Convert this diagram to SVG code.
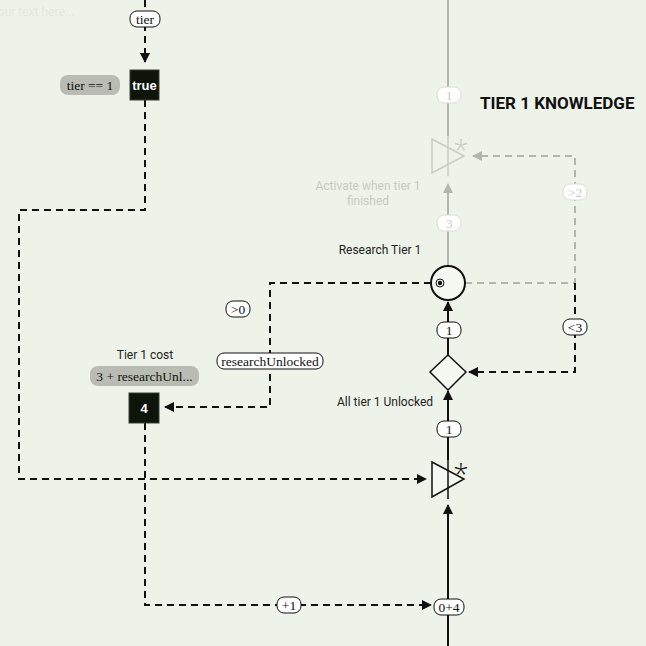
<svg xmlns="http://www.w3.org/2000/svg" width="646" height="646" viewBox="0 0 646 646">
<defs>
<style>
.lbl{font-family:Roboto,"Liberation Sans",sans-serif;font-size:12px;fill:#222;text-anchor:middle}
.faint{fill:#c5cbbf}
.pill{fill:#fff;stroke:#111;stroke-width:1}
.pillf{fill:#fff;stroke:#d8dcd4;stroke-width:1}
.pt{font-family:"Liberation Serif","DejaVu Serif",serif;font-size:13.5px;fill:#111;text-anchor:middle}
.ptf{fill:#c8ccc4}
.gp{fill:#b9bcb2}
.box{fill:#0d140a;stroke:#3a3f36}
.bt{font-family:"Liberation Sans",Roboto,sans-serif;font-size:13px;font-weight:bold;fill:#fff;text-anchor:middle}
.solid{stroke:#111;stroke-width:2;fill:none}
.grey{stroke:#b3b6ae;stroke-width:2;fill:none}
.dash{stroke:#111;stroke-width:2;fill:none;stroke-dasharray:7 5}
.dashg{stroke:#b3b6ae;stroke-width:2;fill:none;stroke-dasharray:7 5}
.shape{fill:#f4f8f0;stroke:#111;stroke-width:1.5}
.shapef{fill:none;stroke:#c8cdc3;stroke-width:1.5}
.star{font-family:"Open Sans","Liberation Sans",sans-serif;font-size:28px;font-weight:300;text-anchor:middle}
</style>
<marker id="ah" viewBox="0 0 10 10" refX="9" refY="5" markerWidth="5" markerHeight="5" orient="auto"><path d="M0,0 L10,5 L0,10 z" fill="#111"/></marker>
<marker id="ahg" viewBox="0 0 10 10" refX="9" refY="5" markerWidth="5" markerHeight="5" orient="auto"><path d="M0,0 L10,5 L0,10 z" fill="#b3b6ae"/></marker>
</defs>
<rect width="646" height="646" fill="#eef3e9"/>
<text x="-9" y="16" font-family="Roboto,sans-serif" font-size="12" fill="#e2e7dd">Your text here...</text>

<g id="connectors">
<line class="grey" x1="448" y1="0" x2="448" y2="136"/>
<line class="grey" x1="448" y1="266" x2="448" y2="184" marker-end="url(#ahg)"/>
<line class="solid" x1="448" y1="355" x2="448" y2="302" marker-end="url(#ah)"/>
<line class="solid" x1="448" y1="460" x2="448" y2="391" marker-end="url(#ah)"/>
<line class="solid" x1="448" y1="646" x2="448" y2="505" marker-end="url(#ah)"/>
<line class="dash" x1="145" y1="0" x2="145" y2="62" marker-end="url(#ah)"/>
<polyline class="dash" points="145,100 145,210 19,210 19,479 426,479" marker-end="url(#ah)"/>
<polyline class="dash" points="431,283 270,283 270,407 165,407" marker-end="url(#ah)"/>
<polyline class="dash" points="145,423 145,605 431,605" marker-end="url(#ah)"/>
<polyline class="dashg" points="465,283 575,283 575,156 473,156" marker-end="url(#ahg)"/>
<polyline class="dash" points="575,283 575,372 469,372" marker-end="url(#ah)"/>
</g>

<g id="pills">
<rect class="pillf" x="437" y="87" width="24" height="16" rx="7"/><text class="pt ptf" x="449" y="100">1</text>
<rect class="pillf" x="437" y="215" width="24" height="16" rx="7"/><text class="pt ptf" x="449" y="228">3</text>
<rect class="pillf" x="563" y="184" width="24" height="16" rx="7"/><text class="pt ptf" x="575" y="197">&gt;2</text>
<rect class="pill" x="437" y="322" width="24" height="16" rx="7"/><text class="pt" x="449" y="335">1</text>
<rect class="pill" x="437" y="421" width="24" height="16" rx="7"/><text class="pt" x="449" y="434">1</text>
<rect class="pill" x="563" y="319" width="24" height="16" rx="7"/><text class="pt" x="575" y="332">&lt;3</text>
<rect class="pill" x="130" y="11" width="30" height="16" rx="7"/><text class="pt" x="145" y="24">tier</text>
<rect class="pill" x="226" y="301" width="24" height="16" rx="7"/><text class="pt" x="238" y="314">&gt;0</text>
<rect class="pill" x="217" y="353" width="106" height="16" rx="7"/><text class="pt" x="270" y="366">researchUnlocked</text>
<rect class="pill" x="277" y="597" width="24" height="16" rx="7"/><text class="pt" x="289" y="610">+1</text>
<rect class="pill" x="434" y="599" width="30" height="16" rx="7"/><text class="pt" x="449" y="612">0+4</text>
</g>

<g id="node-true">
<rect class="gp" x="60" y="75" width="60" height="20" rx="8"/><text class="pt" x="90" y="90" fill="#333">tier == 1</text>
<rect class="box" x="130" y="70" width="29" height="30"/><text class="bt" x="144.5" y="90">true</text>
</g>

<g id="node-cost">
<text class="lbl" x="145" y="359">Tier 1 cost</text>
<rect class="gp" x="90" y="366" width="109" height="20" rx="8"/><text class="pt" x="144.5" y="381" fill="#333">3 + researchUnl...</text>
<rect class="box" x="129" y="393" width="30" height="30"/><text class="bt" x="144" y="413">4</text>
</g>

<g id="node-activate">
<polygon class="shapef" points="432,139 464,156 432,173"/>
<line x1="448" y1="136" x2="448" y2="176" stroke="#c8cdc3" stroke-width="1.5"/>
<text class="star" x="461" y="160" fill="#c8cdc3">*</text>
<text class="lbl faint" x="368" y="190">Activate when tier 1</text>
<text class="lbl faint" x="368" y="205">finished</text>
</g>

<g id="node-research">
<text class="lbl" x="380" y="254">Research Tier 1</text>
<circle cx="448" cy="283" r="17" fill="#f4f8f0" stroke="#111" stroke-width="2"/>
<circle cx="440" cy="283" r="4" fill="none" stroke="#111" stroke-width="1"/>
<circle cx="440" cy="283" r="2.2" fill="#111"/>
</g>

<g id="node-unlocked">
<polygon class="shape" points="448,355 466,372 448,390 430,372"/>
<text class="lbl" x="385" y="406">All tier 1 Unlocked</text>
</g>

<g id="node-trigger">
<polygon class="shape" points="432,462 464,479 432,497"/>
<line x1="448" y1="459" x2="448" y2="499" stroke="#111" stroke-width="1.5"/>
<text class="star" x="461" y="484" fill="#111">*</text>
</g>

<text x="480" y="109" font-family="Roboto,'Liberation Sans',sans-serif" font-size="17" font-weight="bold" fill="#111">TIER 1 KNOWLEDGE</text>
</svg>
